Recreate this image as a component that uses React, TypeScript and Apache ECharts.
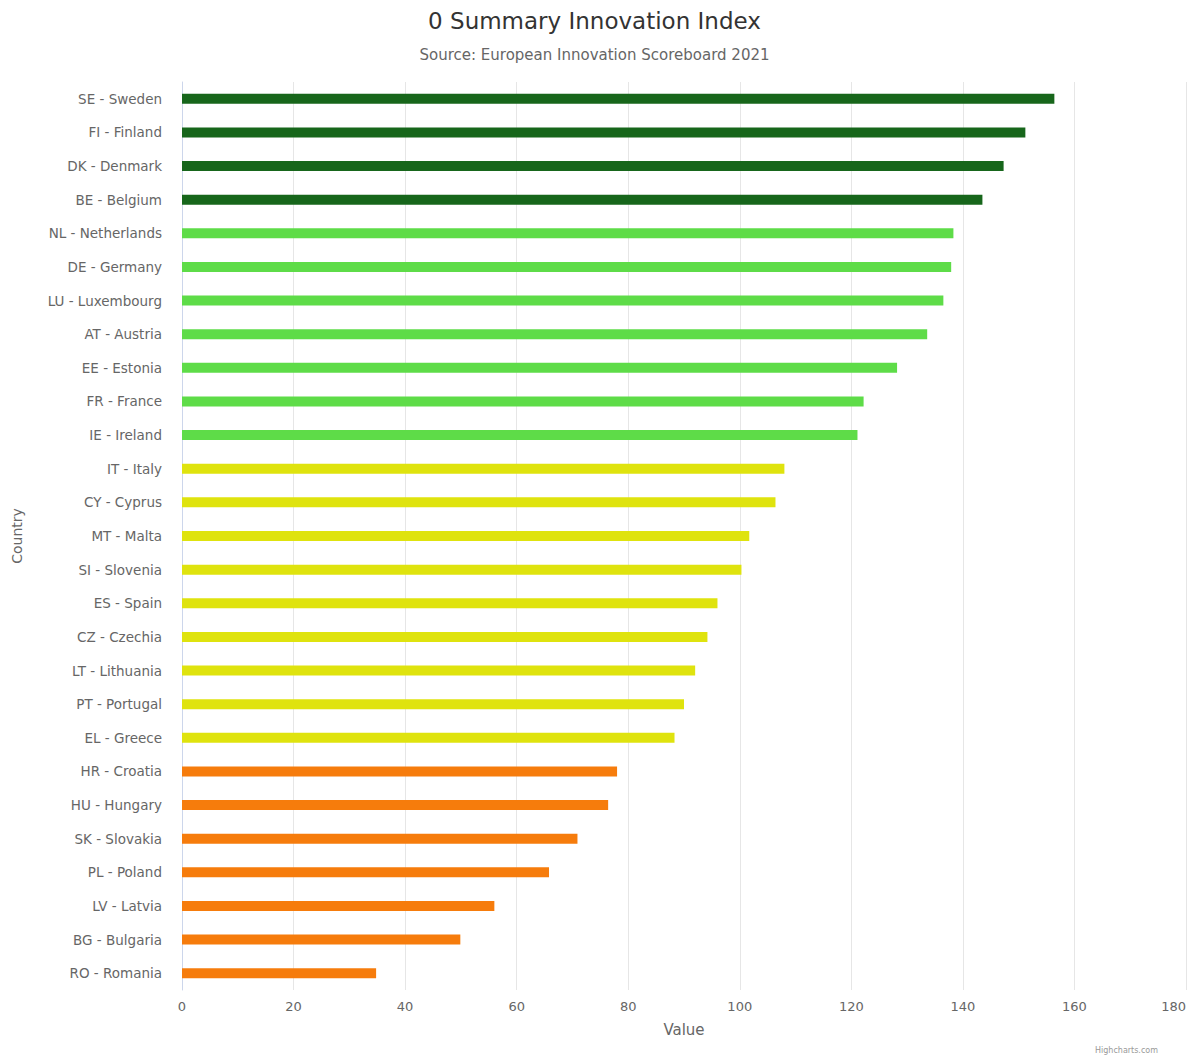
import React, { useEffect, useRef } from "react";
import * as echarts from "echarts";

const titleText = "0 Summary Innovation Index";
const subtitleText = "Source: European Innovation Scoreboard 2021";
const creditsText = "Highcharts.com";

const countries = [
  "SE - Sweden", "FI - Finland", "DK - Denmark", "BE - Belgium",
  "NL - Netherlands", "DE - Germany", "LU - Luxembourg", "AT - Austria",
  "EE - Estonia", "FR - France", "IE - Ireland",
  "IT - Italy", "CY - Cyprus", "MT - Malta", "SI - Slovenia", "ES - Spain",
  "CZ - Czechia", "LT - Lithuania", "PT - Portugal", "EL - Greece",
  "HR - Croatia", "HU - Hungary", "SK - Slovakia", "PL - Poland",
  "LV - Latvia", "BG - Bulgaria", "RO - Romania",
];

const values = [
  156.4, 151.2, 147.3, 143.5,
  138.3, 137.9, 136.5, 133.6, 128.2, 122.2, 121.1,
  108.0, 106.4, 101.7, 100.3, 96.0, 94.2, 92.0, 90.0, 88.3,
  78.0, 76.4, 70.9, 65.8, 56.0, 49.9, 34.8,
];

// performance group of each country
const groups = [
  "leader", "leader", "leader", "leader",
  "strong", "strong", "strong", "strong", "strong", "strong", "strong",
  "moderate", "moderate", "moderate", "moderate", "moderate", "moderate", "moderate", "moderate", "moderate",
  "emerging", "emerging", "emerging", "emerging", "emerging", "emerging", "emerging",
];

const groupColors: Record<string, string> = {
  leader: "#17661b",
  strong: "#5edc48",
  moderate: "#dfe30e",
  emerging: "#f67c0c",
};

const xTicks = { min: 0, max: 180, interval: 20 };

const FONT = "DejaVu Sans";

export default function App() {
  const ref = useRef<HTMLDivElement>(null);

  useEffect(() => {
    if (!ref.current) return;
    const chart = echarts.init(ref.current, undefined, { renderer: "svg" });
    chart.setOption({
      animation: false,
      backgroundColor: "#ffffff",
      title: [
        {
          text: titleText,
          left: "center",
          top: 4,
          textStyle: { fontFamily: FONT, fontSize: 23, fontWeight: "normal", color: "#333333" },
        },
        {
          text: subtitleText,
          left: "center",
          top: 42,
          textStyle: { fontFamily: FONT, fontSize: 15, fontWeight: "normal", color: "#666666" },
        },
      ],
      graphic: [
        {
          type: "text",
          right: 31,
          bottom: 2,
          style: { text: creditsText, fontFamily: FONT, fontSize: 8, fill: "#999999" },
        },
      ],
      grid: { left: 182, right: 3, top: 82, bottom: 66, containLabel: false },
      xAxis: {
        type: "value",
        min: xTicks.min,
        max: xTicks.max,
        interval: xTicks.interval,
        name: "Value",
        nameLocation: "middle",
        nameGap: 32,
        nameTextStyle: { fontFamily: FONT, fontSize: 15, color: "#666666" },
        axisLine: { show: false },
        axisTick: { show: false },
        axisLabel: {
          fontFamily: FONT,
          fontSize: 13,
          color: "#666666",
          margin: 10,
          alignMaxLabel: "right",
        },
        splitLine: { show: true, lineStyle: { color: "#e6e6e6", width: 1 } },
      },
      yAxis: {
        type: "category",
        inverse: true,
        data: countries,
        name: "Country",
        nameLocation: "middle",
        nameRotate: 90,
        nameGap: 158,
        nameTextStyle: { fontFamily: FONT, fontSize: 14, color: "#666666" },
        axisLine: { show: true, lineStyle: { color: "#ccd6eb", width: 1 } },
        axisTick: { show: false },
        axisLabel: {
          fontFamily: FONT,
          fontSize: 13.5,
          color: "#666666",
          margin: 20,
        },
        splitLine: { show: false },
      },
      series: [
        {
          type: "bar",
          barWidth: 10,
          data: values.map((v, i) => ({
            value: v,
            itemStyle: { color: groupColors[groups[i]] },
          })),
        },
      ],
    });
    return () => chart.dispose();
  }, []);

  return (
    <div
      ref={ref}
      style={{ position: "absolute", left: 0, top: 0, width: 1189, height: 1056 }}
    />
  );
}
